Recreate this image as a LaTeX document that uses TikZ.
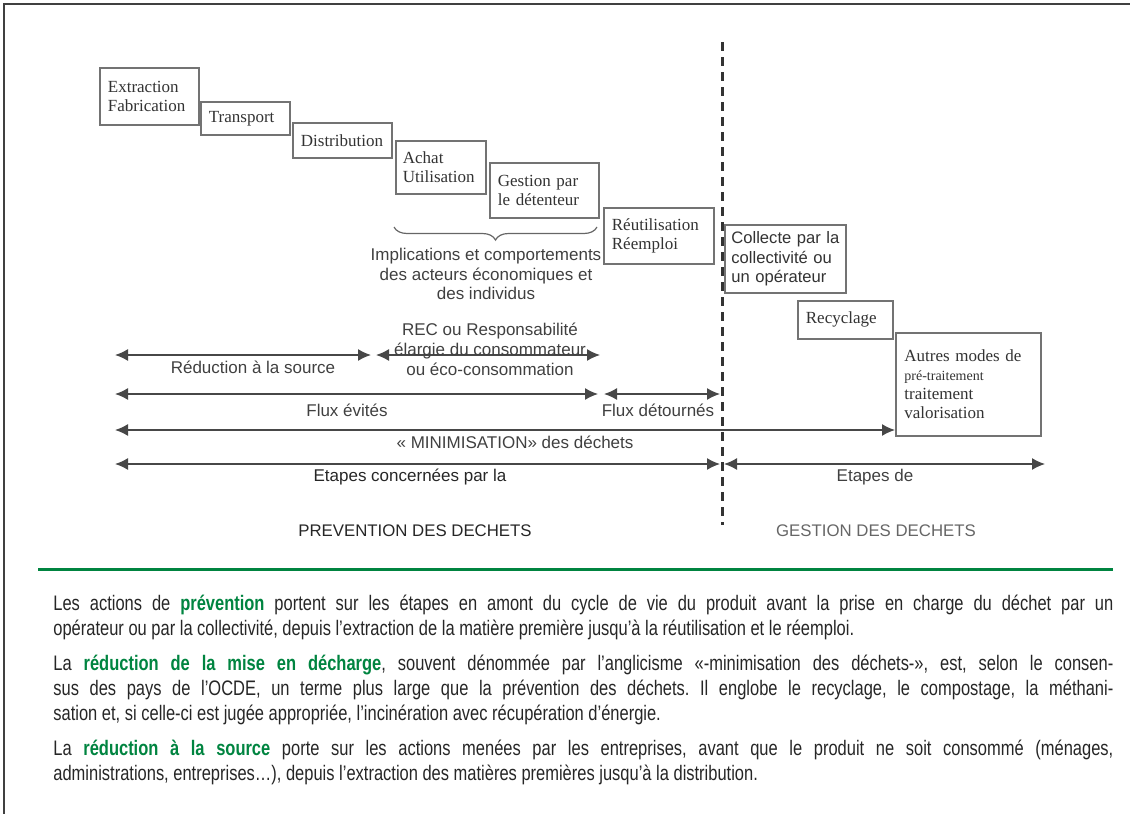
\documentclass[tikz,border=0pt]{standalone}
\usepackage{fontspec}
\usetikzlibrary{arrows.meta,decorations.pathreplacing}
\newfontfamily\bodyfont[FakeStretch=0.785]{Liberation Sans}
\newfontfamily\lsans{Liberation Sans}
\newfontfamily\lserif{Liberation Serif}
\definecolor{vert}{RGB}{0,132,64}
\frenchspacing
\tikzset{
  box/.style={draw=black!55, line width=0.9pt, fill=white, anchor=north west, align=left,
    inner xsep=4pt, inner ysep=0pt, font=\lserif\fontsize{8.5}{9.5}\selectfont, text=black!80},
  sbox/.style={box, font=\lsans\fontsize{8.3}{9.6}\selectfont},
  lbl/.style={font=\lsans\fontsize{8.5}{9.6}\selectfont, text=black!75, align=center, inner sep=0pt},
  dbl/.style={arrows={Latex[length=6.5pt,width=6pt]-Latex[length=6.5pt,width=6pt]}, line width=0.7pt, draw=black!72},
  body/.style={anchor=base west, inner sep=0pt, font=\bodyfont\fontsize{10.5}{12.5}\selectfont, text=black!85},
  capt/.style={font=\lsans\fontsize{8.4}{9.6}\selectfont, inner sep=0pt},
}
\newcommand{\vb}[1]{\textcolor{vert}{\textbf{#1}}}
\begin{document}
\begin{tikzpicture}[x=0.5pt,y=-0.5pt]
\useasboundingbox (0,0) rectangle (1130,814);
% frame
\draw[line width=0.8pt, black!75] (1130,4) -- (4,4) -- (4,814);

% process boxes
\node[box, minimum width=49.5pt, minimum height=28.5pt, text width=41.5pt] (ext) at (99,67) {Extraction\\Fabrication};
\node[box, minimum width=44.5pt, minimum height=16.5pt, text width=36.5pt] (tra) at (200,101) {Transport};
\node[box, minimum width=49.5pt, minimum height=17.5pt, text width=41.5pt] (dis) at (292,122) {Distribution};
\node[box, minimum width=45pt, minimum height=26.5pt, text width=38pt, inner xsep=3.5pt] (ach) at (395,140) {Achat\\Utilisation};
\node[box, minimum width=54.5pt, minimum height=27.5pt, text width=46.5pt] (ges) at (489,162) {Gestion par\\le détenteur};
\node[box, minimum width=55pt, minimum height=28pt, text width=47pt] (reu) at (603,207) {Réutilisation\\Réemploi};
\node[sbox, minimum width=60.5pt, minimum height=34pt, text width=54pt, inner xsep=3.25pt] (col) at (724,224) {Collecte par la\\collectivité ou\\un opérateur};
\node[box, minimum width=47.5pt, minimum height=19pt, text width=39.5pt] (rec) at (797,300) {Recyclage};
\node[box, minimum width=72.5pt, minimum height=51.5pt, text width=64pt, inner xsep=4.25pt] (aut) at (895,332) {Autres modes de\\{\fontsize{7}{9.5}\selectfont pré-traitement}\\traitement\\valorisation};

% separation line
\coordinate (dtop) at (722,42);
\coordinate (dbot) at (722,525);
\draw[black!80, line width=1.5pt, dash pattern=on 4.5pt off 3pt] (dtop) -- (dbot);

% brace and its text
\coordinate (bl) at (394,227);
\coordinate (br) at (597,227);
\draw[decorate, decoration={brace, amplitude=6.5pt, mirror}, draw=black!60, line width=0.6pt] (bl) -- (br);
\node[lbl] (impl) at (486,274) {Implications et comportements\\des acteurs économiques et\\des individus};

% row 1
\coordinate (r1a) at (115,355);
\coordinate (r1b) at (371,355);
\coordinate (r1c) at (376,355);
\coordinate (r1d) at (600,355);
\draw[dbl] (r1a) -- (r1b);
\draw[dbl] (r1c) -- (r1d);
\node[lbl] (lred) at (253,367) {Réduction à la source};
\node[lbl, font=\lsans\fontsize{8.5}{10}\selectfont] (lrec) at (490,349) {REC ou Responsabilité\\élargie du consommateur\\ou éco-consommation};

% row 2
\coordinate (r2a) at (115,394);
\coordinate (r2b) at (598,394);
\coordinate (r2c) at (604,394);
\coordinate (r2d) at (720,394);
\draw[dbl] (r2a) -- (r2b);
\draw[dbl] (r2c) -- (r2d);
\node[lbl] (lfe) at (347,410) {Flux évités};
\node[lbl] (lfd) at (658,410) {Flux détournés};

% row 3
\coordinate (r3a) at (115,430);
\draw[dbl] (r3a) -- (r3a -| aut.west);
\node[lbl] (lmin) at (515,442) {« MINIMISATION» des déchets};

% row 4
\coordinate (r4a) at (115,464);
\coordinate (r4b) at (720,464);
\coordinate (r4c) at (724,464);
\coordinate (r4d) at (1045,464);
\draw[dbl] (r4a) -- (r4b);
\draw[dbl] (r4c) -- (r4d);
\node[lbl, text=black!85] (let1) at (410,477) {Etapes concernées par la};
\node[lbl] (let2) at (875,477) {Etapes de};

% bottom captions
\node[capt, text=black!85] (cprev) at (415,531) {PREVENTION DES DECHETS};
\node[capt, text=black!60] (cgest) at (876,531) {GESTION DES DECHETS};

% green rule
\draw[vert, line width=1.5pt] (38,569) -- (1113,569);

% body text
\node[body] (p1a) at (53,610) {\makebox[530pt][s]{Les actions de \vb{prévention} portent sur les étapes en amont du cycle de vie du produit avant la prise en charge du déchet par un}};
\node[body] (p1b) at (53,635) {opérateur ou par la collectivité, depuis l’extraction de la matière première jusqu’à la réutilisation et le réemploi.};
\node[body] (p2a) at (53,670) {\makebox[530pt][s]{La \vb{réduction de la mise en décharge}, souvent dénommée par l’anglicisme «-minimisation des déchets-», est, selon le consen-}};
\node[body] (p2b) at (53,695) {\makebox[530pt][s]{sus des pays de l’OCDE, un terme plus large que la prévention des déchets. Il englobe le recyclage, le compostage, la méthani-}};
\node[body] (p2c) at (53,720) {sation et, si celle-ci est jugée appropriée, l’incinération avec récupération d’énergie.};
\node[body] (p3a) at (53,755) {\makebox[530pt][s]{La \vb{réduction à la source} porte sur les actions menées par les entreprises, avant que le produit ne soit consommé (ménages,}};
\node[body] (p3b) at (53,780) {administrations, entreprises…), depuis l’extraction des matières premières jusqu’à la distribution.};
\end{tikzpicture}
\end{document}
